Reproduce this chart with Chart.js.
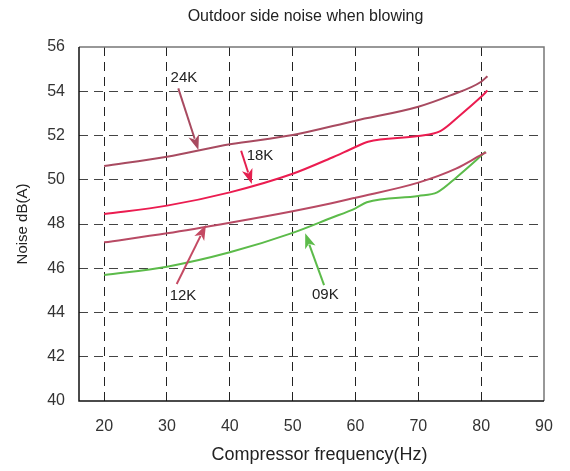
<!DOCTYPE html>
<html>
<head>
<meta charset="utf-8">
<script src="https://cdn.jsdelivr.net/npm/chart.js@4"></script>
<style>
html,body{margin:0;padding:0;background:#fff;}
#wrap{width:570px;height:471px;}
</style>
</head>
<body>
<div id="wrap"><canvas id="c" width="570" height="471"></canvas></div>
<script>
// ---- data ----
const freq24K = [20, 30, 40, 50, 60, 70, 75, 80, 81];
const noise24K = [50.62, 51.04, 51.60, 52.02, 52.67, 53.30, 53.80, 54.43, 54.68];
const freq18K = [20, 30, 40, 50, 56, 60, 62, 70, 73.5, 76.7, 80, 81];
const noise18K = [48.45, 48.83, 49.43, 50.27, 50.97, 51.48, 51.72, 51.98, 52.20, 52.93, 53.75, 54.03];
const freq12K = [20, 30, 40, 50, 56, 60, 70, 76, 80, 80.8];
const noise12K = [47.17, 47.58, 48.06, 48.58, 48.93, 49.19, 49.87, 50.50, 51.12, 51.24];
const freq09K = [20, 30, 40, 50, 56, 60, 61.8, 70, 73, 76.2, 80.7];
const noise09K = [45.69, 46.07, 46.72, 47.60, 48.26, 48.71, 48.98, 49.27, 49.43, 50.14, 51.26];
const seriesNames = ['24K', '18K', '12K', '09K'];
const xTicks = [20, 30, 40, 50, 60, 70, 80, 90];
const yTicks = [40, 42, 44, 46, 48, 50, 52, 54, 56];
// annotation anchors in data units: label position, arrow tail, arrow tip
const labelAt = [[32.7, 54.6], [44.8, 51.07], [32.55, 44.75], [55.2, 44.8]];
const arrowFrom = [[31.8, 54.13], [41.8, 51.31], [31.55, 45.29], [55.0, 45.24]];
const arrowTo = [[35.0, 51.34], [43.5, 49.81], [36.2, 47.95], [52.0, 47.58]];

const lineColors = ['#A84A60', '#EB1C50', '#B84A64', '#5CBB4A'];
const arrowColors = ['#A84A60', '#E5204F', '#C44A63', '#5CBB4A'];
const seriesFreq = [freq24K, freq18K, freq12K, freq09K];
const seriesValues = [noise24K, noise18K, noise12K, noise09K];

const datasets = seriesNames.map((n, i) => ({
  label: n,
  data: seriesFreq[i].map((f, j) => ({x: f, y: seriesValues[i][j]})),
  borderColor: lineColors[i],
  borderWidth: 2,
  pointRadius: 0,
  fill: false,
  cubicInterpolationMode: 'monotone'
}));

const font = '"Liberation Sans", Arial, sans-serif';

const annot = {
  id: 'annot',
  afterDatasetsDraw(chart) {
    const ctx = chart.ctx, xs = chart.scales.x, ys = chart.scales.y;
    ctx.save();
    seriesNames.forEach((n, i) => {
      const x0 = xs.getPixelForValue(arrowFrom[i][0]), y0 = ys.getPixelForValue(arrowFrom[i][1]);
      const x1 = xs.getPixelForValue(arrowTo[i][0]), y1 = ys.getPixelForValue(arrowTo[i][1]);
      const ang = Math.atan2(y1 - y0, x1 - x0);
      const hl = 15, hw = 5.5;
      const bx = x1 - hl * Math.cos(ang), by = y1 - hl * Math.sin(ang);
      ctx.strokeStyle = arrowColors[i];
      ctx.fillStyle = arrowColors[i];
      ctx.lineWidth = 2;
      ctx.beginPath();
      ctx.moveTo(x0, y0);
      ctx.lineTo(bx + 3 * Math.cos(ang), by + 3 * Math.sin(ang));
      ctx.stroke();
      ctx.beginPath();
      ctx.moveTo(x1, y1);
      ctx.lineTo(bx - hw * Math.sin(ang), by + hw * Math.cos(ang));
      ctx.lineTo(bx + 4 * Math.cos(ang), by + 4 * Math.sin(ang));
      ctx.lineTo(bx + hw * Math.sin(ang), by - hw * Math.cos(ang));
      ctx.closePath();
      ctx.fill();
      ctx.fillStyle = '#222';
      ctx.font = '15px ' + font;
      ctx.textAlign = 'center';
      ctx.textBaseline = 'middle';
      ctx.fillText(n, xs.getPixelForValue(labelAt[i][0]), ys.getPixelForValue(labelAt[i][1]));
    });
    ctx.restore();
  }
};

const frame = {
  id: 'frame',
  afterDatasetsDraw(chart) {
    const a = chart.chartArea, ctx = chart.ctx;
    ctx.save();
    ctx.lineWidth = 1.5;
    ctx.strokeStyle = '#777';
    ctx.beginPath();
    ctx.moveTo(a.left, a.top); ctx.lineTo(a.right, a.top); ctx.lineTo(a.right, a.bottom);
    ctx.stroke();
    ctx.strokeStyle = '#111';
    ctx.beginPath();
    ctx.moveTo(a.left, a.top); ctx.lineTo(a.left, a.bottom); ctx.lineTo(a.right, a.bottom);
    ctx.stroke();
    // chart title and x-axis title
    const cx = (a.left + a.right) / 2;
    ctx.fillStyle = '#222';
    ctx.textAlign = 'center';
    ctx.textBaseline = 'middle';
    ctx.font = '16px ' + font;
    ctx.fillText('Outdoor side noise when blowing', cx - 6, 17);
    ctx.font = '18px ' + font;
    ctx.fillText('Compressor frequency(Hz)', cx + 8, a.bottom + 54);
    ctx.restore();
  }
};

new Chart(document.getElementById('c'), {
  type: 'line',
  data: {datasets},
  plugins: [frame, annot],
  options: {
    responsive: false,
    animation: false,
    layout: {padding: {left: 0, right: 26, top: 47, bottom: 0}},
    plugins: {
      legend: {display: false},
      tooltip: {enabled: false},
      title: {display: false}
    },
    scales: {
      x: {
        type: 'linear',
        min: 16, max: 90,
        afterBuildTicks: s => { s.ticks = xTicks.map(v => ({value: v})); },
        afterFit: s => { s.height = 70; },
        ticks: {color: '#333', font: {family: font, size: 16}, padding: 16},
        grid: {
          drawTicks: false,
          color: c => (c.tick && c.tick.value === 90) ? 'rgba(0,0,0,0)' : '#222',
          lineWidth: 1
        },
        border: {display: false, dash: [9, 6]},
        title: {display: false}
      },
      y: {
        min: 40, max: 56,
        afterBuildTicks: s => { s.ticks = yTicks.map(v => ({value: v})); },
        afterFit: s => { s.width = 79; },
        ticks: {color: '#333', font: {family: font, size: 16}, padding: 14},
        grid: {
          drawTicks: false,
          color: c => (c.tick && (c.tick.value === 40 || c.tick.value === 56)) ? 'rgba(0,0,0,0)' : '#444',
          lineWidth: 1
        },
        border: {display: false, dash: [9, 6]},
        title: {display: true, text: 'Noise dB(A)', color: '#222',
          font: {family: font, size: 15}, padding: {top: 14, bottom: 0}}
      }
    }
  }
});
</script>
</body>
</html>
